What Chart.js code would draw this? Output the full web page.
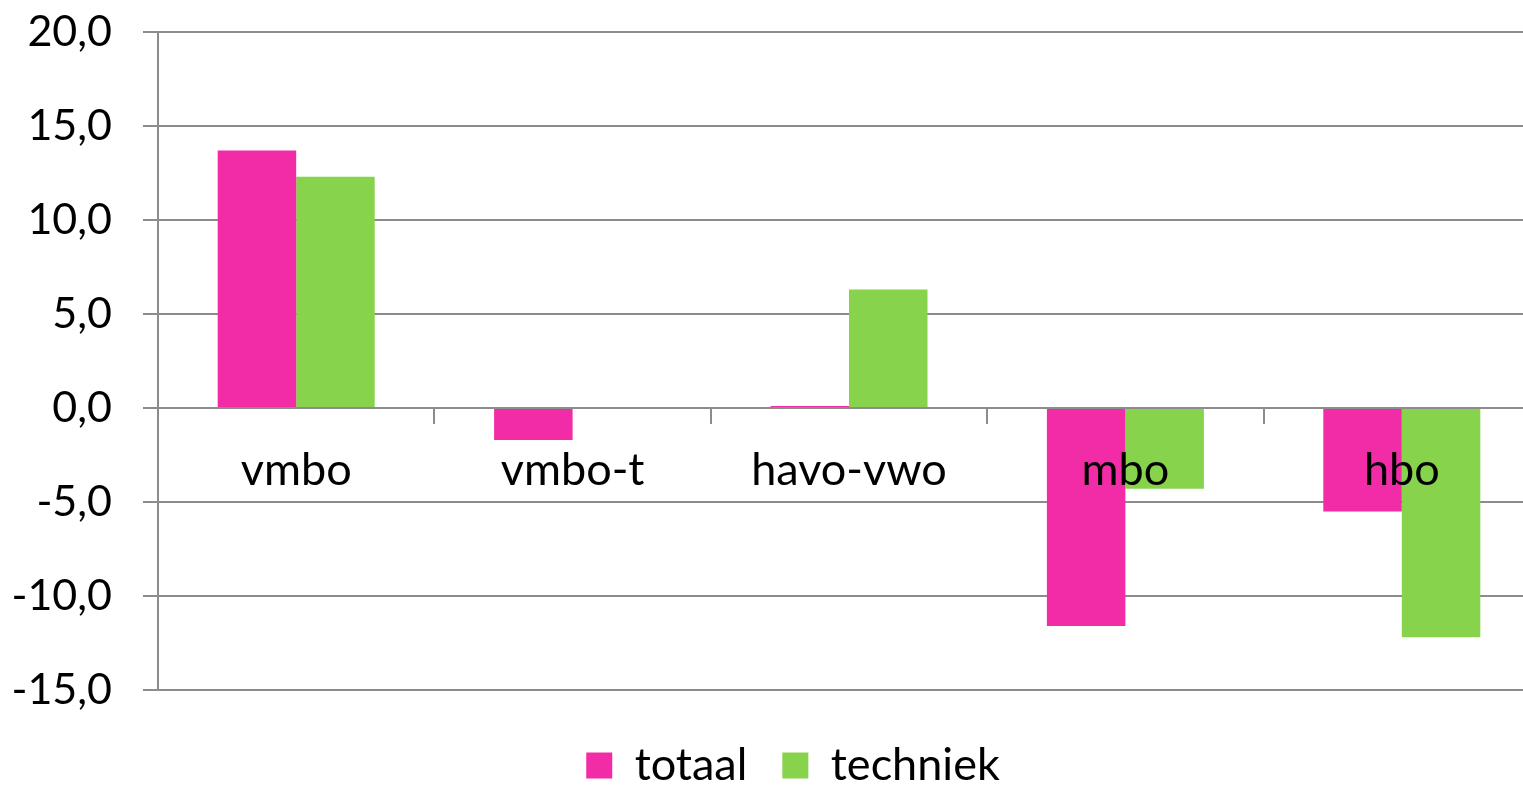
<!DOCTYPE html>
<html>
<head>
<meta charset="utf-8">
<script src="https://cdn.jsdelivr.net/npm/chart.js@4/dist/chart.umd.min.js"></script>
<style>
  html, body { margin: 0; padding: 0; overflow: hidden; background: #fff; }
  #wrap { width: 1540px; height: 787px; }
</style>
</head>
<body>
<div id="wrap"><canvas id="myChart" width="1540" height="787"></canvas></div>
<script>
// chart data
const categories = ['vmbo', 'vmbo-t', 'havo-vwo', 'mbo', 'hbo'];
const totaal = [13.7, -1.7, 0.1, -11.6, -5.5];
const techniek = [12.3, 0, 6.3, -4.3, -12.2];
const yTicks = [-15, -10, -5, 0, 5, 10, 15, 20];

const gridColor = '#8c8c8c';
const fontFamily = 'Lato, "Open Sans", sans-serif';

// nudge the legend a bit right and down, like the original
const legendShift = {
  id: 'legendShift',
  afterLayout(chart) {
    chart.legend.left += 46;
    chart.legend.top += 18;
  },
};

const data = {
  labels: categories,
  datasets: [
    {
      label: 'totaal',
      data: totaal,
      backgroundColor: '#F22BA6',
    },
    {
      label: 'techniek',
      data: techniek,
      backgroundColor: '#87D34B',
    },
  ],
};

const config = {
  type: 'bar',
  data: data,
  plugins: [legendShift],
  options: {
    responsive: false,
    animation: false,
    layout: {
      padding: { left: 0, top: 32, right: 0, bottom: 7 },
    },
    datasets: {
      bar: {
        categoryPercentage: 0.568,
        barPercentage: 1,
      },
    },
    scales: {
      x: {
        type: 'category',
        position: { y: 0 },
        offset: true,
        grid: {
          offset: true,
          drawOnChartArea: false,
          drawTicks: true,
          tickLength: 15,
          color: gridColor,
          lineWidth: 2,
        },
        border: { color: gridColor, width: 2 },
        ticks: {
          z: 1,
          color: '#000',
          padding: 20,
          maxRotation: 0,
          font: { family: fontFamily, size: 45 },
        },
      },
      y: {
        min: -15,
        max: 20,
        afterBuildTicks: (scale) => {
          scale.ticks = yTicks.map((v) => ({ value: v }));
        },
        afterFit: (scale) => {
          scale.width = 158;
          scale.paddingTop = 0;
          scale.paddingBottom = 0;
        },
        grid: {
          color: gridColor,
          lineWidth: 2,
          tickLength: 15,
        },
        border: { color: gridColor, width: 2 },
        ticks: {
          color: '#000',
          padding: 31,
          font: { family: fontFamily, size: 43 },
          callback: (v) => v.toFixed(1).replace('.', ','),
        },
      },
    },
    plugins: {
      legend: {
        position: 'bottom',
        labels: {
          boxWidth: 26,
          boxHeight: 26,
          padding: 35,
          color: '#000',
          font: { family: fontFamily, size: 45 },
        },
      },
      tooltip: { enabled: false },
    },
  },
};

const myChart = new Chart(document.getElementById('myChart'), config);
</script>
</body>
</html>
